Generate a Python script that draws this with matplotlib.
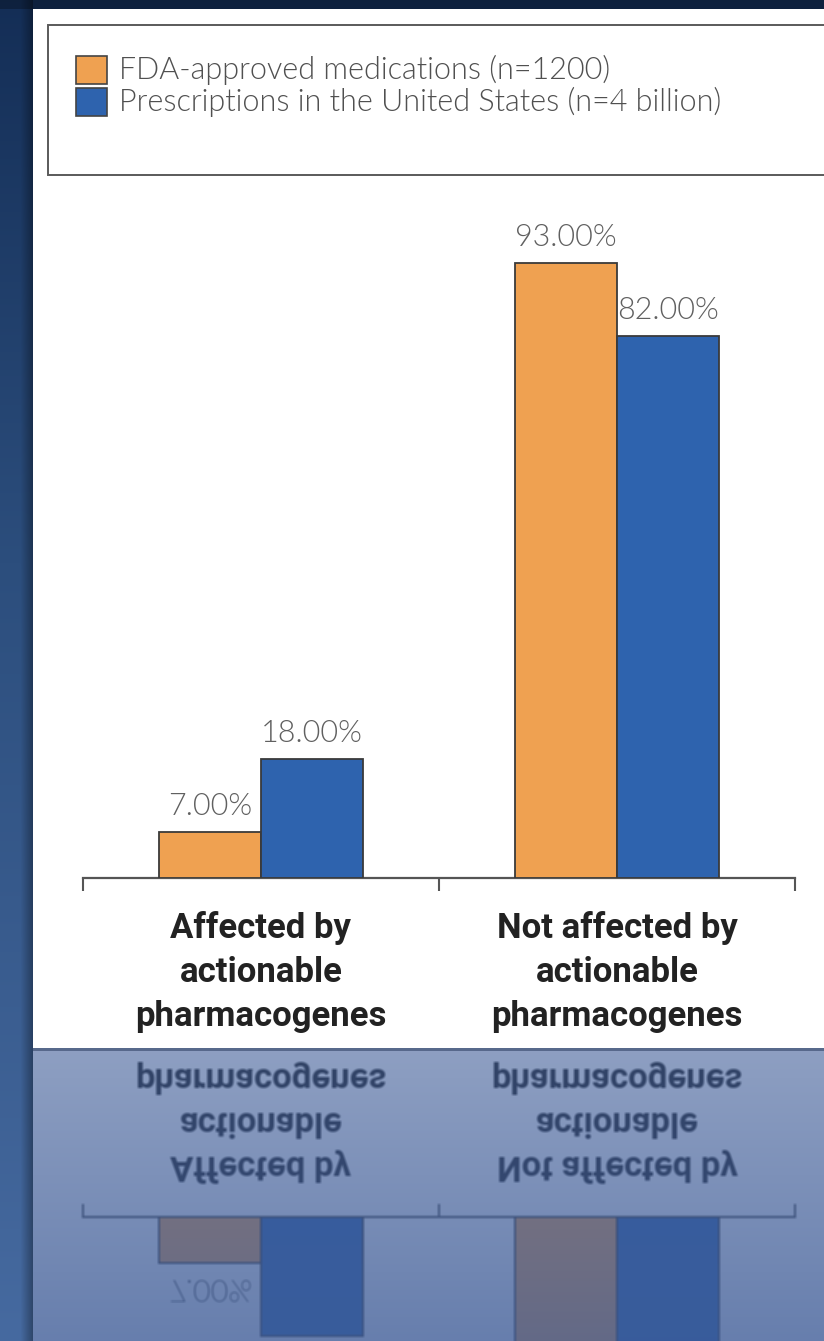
import matplotlib
matplotlib.use("Agg")
import matplotlib.pyplot as plt
from matplotlib.patches import Rectangle
import numpy as np

# ---------------- data ----------------
categories = ["Affected by\nactionable\npharmacogenes",
              "Not affected by\nactionable\npharmacogenes"]
series_names = ["FDA-approved medications (n=1200)",
                "Prescriptions in the United States (n=4 billion)"]
fda_values = [7.0, 93.0]
rx_values = [18.0, 82.0]
value_fmt = "{:.2f}%"

# ---------------- style ----------------
W, H = 824, 1341
ORANGE = "#EFA151"
BLUE = "#2E63AE"
EDGE = "#3a3a3a"
VAL_COLOR = "#606060"
LEG_COLOR = "#505050"
CAT_COLOR = "#222222"
LIGHT_FONT = ["Lato", "DejaVu Sans"]
CAT_FONT = ["Roboto", "DejaVu Sans"]

fig = plt.figure(figsize=(W / 100, H / 100), dpi=100)

def fx(px):
    return px / W

def fy(py):  # py measured from top
    return 1 - py / H

# background slide gradient
bg_ax = fig.add_axes([0, 0, 1, 1], zorder=-10)
rows = np.linspace(0, 1, H)[:, None]
top = np.array([20, 46, 86]) / 255
mid = np.array([44, 78, 125]) / 255
bot = np.array([70, 106, 160]) / 255
t = rows
col = np.where(t < 0.42, top + (mid - top) * (t / 0.42),
               mid + (bot - mid) * ((t - 0.42) / 0.58))
img = np.repeat(col[:, None, :], W, axis=1).reshape(H, W, 3)
xs = np.arange(W)[None, :]
ys = np.arange(H)[:, None]
shade = np.ones((H, W))
sx = np.clip((xs - 20) / 13.0, 0, 1)
shade = shade * (1 - 0.35 * sx * (xs < 33))
shade = shade * np.where(ys < 9, 0.72, 1.0)
img = img * shade[:, :, None]
bg_ax.imshow(np.clip(img, 0, 1), aspect="auto", extent=[0, 1, 0, 1],
             interpolation="bilinear")
bg_ax.set_axis_off()

# white panel
fig.patches.append(Rectangle((fx(33), fy(1048)), fx(W - 33), fy(9) - fy(1048),
                             transform=fig.transFigure, facecolor="white",
                             edgecolor="none", zorder=-5))

# legend box (extends past right edge, as in the slide)
fig.patches.append(Rectangle((fx(48), fy(175)), fx(800), fy(25) - fy(175),
                             transform=fig.transFigure, facecolor="white",
                             edgecolor="#5a5a5a", linewidth=1.4, zorder=-4))
leg_colors = [ORANGE, BLUE]
leg_rows = [70, 102]
for name, c, yc in zip(series_names, leg_colors, leg_rows):
    fig.patches.append(Rectangle((fx(76), fy(yc + 14)), fx(31), fy(yc - 14) - fy(yc + 14),
                                 transform=fig.transFigure, facecolor=c,
                                 edgecolor="#444444", linewidth=1.2, zorder=-3))
    fig.text(fx(119), fy(yc), name, fontsize=22, color=LEG_COLOR,
             family=LIGHT_FONT, fontweight=300,
             va="center", ha="left")

# main axes: baseline at y=878 px, 6.61 px per percentage point
ax = fig.add_axes([fx(83), fy(878), fx(795 - 83), fy(217) - fy(878)])
ax.set_facecolor("none")
x = np.arange(len(categories))
bw = 0.2865
b1 = ax.bar(x - bw / 2, fda_values, bw, color=ORANGE, edgecolor=EDGE,
            linewidth=1.3, label=series_names[0], zorder=3)
b2 = ax.bar(x + bw / 2, rx_values, bw, color=BLUE, edgecolor=EDGE,
            linewidth=1.3, label=series_names[1], zorder=3)
for bars, vals in ((b1, fda_values), (b2, rx_values)):
    for r, v in zip(bars, vals):
        ax.annotate(value_fmt.format(v), (r.get_x() + r.get_width() / 2, v),
                    xytext=(0, 18.5), textcoords="offset points",
                    ha="center", va="center", fontsize=22, color=VAL_COLOR,
                    family=LIGHT_FONT, fontweight=300)
ax.set_xlim(-0.5, 1.5)
ax.set_ylim(0, 100)
for s in ("left", "right", "top"):
    ax.spines[s].set_visible(False)
ax.spines["bottom"].set_color("#555555")
ax.spines["bottom"].set_linewidth(1.6)
ax.set_yticks([])
ax.set_xticks([-0.5, 0.5, 1.5])
ax.set_xticklabels([])
ax.tick_params(axis="x", which="major", direction="out", length=9,
               width=1.5, color="#555555")
ax.set_xticks(x, minor=True)
ax.set_xticklabels(categories, minor=True)
ax.tick_params(axis="x", which="minor", length=0, pad=24)
for lab in ax.get_xticklabels(minor=True):
    lab.set_fontfamily(CAT_FONT)
    lab.set_fontweight("bold")
    lab.set_fontsize(25)
    lab.set_color(CAT_COLOR)
    lab.set_linespacing(1.41)

# ---------------- reflection of the panel ----------------
fig.canvas.draw()
buf = np.asarray(fig.canvas.buffer_rgba())[:, :, :3].astype(float) / 255
mirror = 1047
r0 = 1048
nref = H - r0
src_rows = 2 * mirror - np.arange(r0, H)
ref = buf[src_rows, 33:, :].copy()
pad = np.pad(ref, ((1, 1), (1, 1), (0, 0)), mode="edge")
ref = sum(pad[i:i + nref, j:j + ref.shape[1]] for i in range(3) for j in range(3)) / 9
alpha = np.linspace(0.42, 0.22, nref)[:, None, None]
tint = np.array([60, 90, 150]) / 255
ref = ref * alpha + tint * (1 - alpha)
ref[0:3] *= np.array([0.62, 0.66, 0.72])
fig.figimage(np.clip(ref, 0, 1), xo=33, yo=0, origin="upper", zorder=5)

fig.savefig("out.png", dpi=100)
